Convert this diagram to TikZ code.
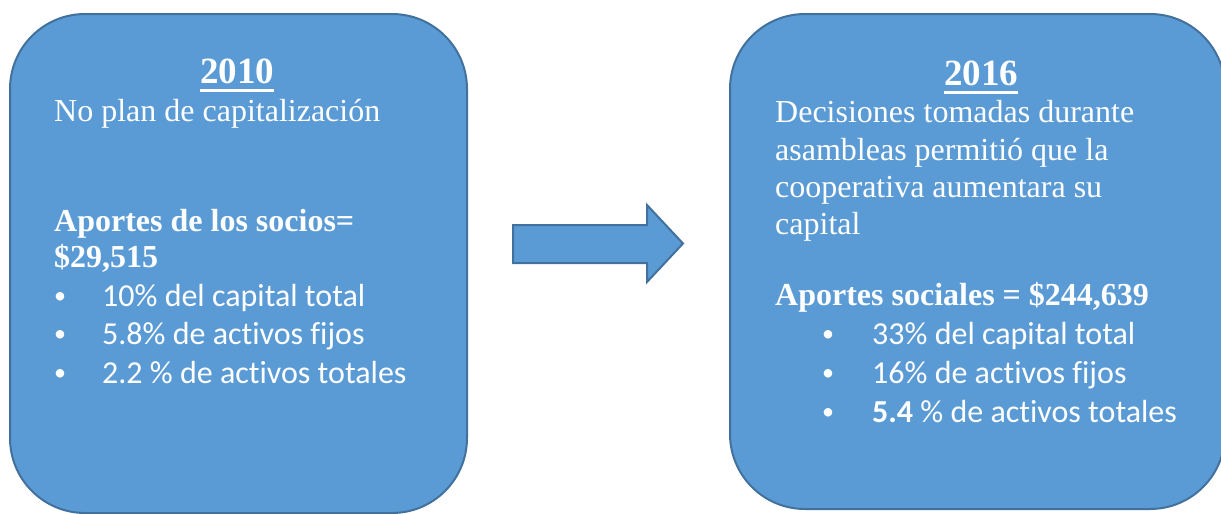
\documentclass[tikz,border=0pt]{standalone}
\usepackage{fontspec}
\setmainfont{Liberation Serif}
\newfontfamily\bodysans[RawFeature={-liga;-clig;-dlig;-calt}]{Carlito}
\begin{document}
\begin{tikzpicture}[x=1pt,y=-1pt,
  panel/.style={draw=panelline, fill=panelfill, line width=2pt, rounded corners=75pt,
    inner sep=0pt},
  yeartitle/.style={text=white, inner sep=0pt, anchor=base,
    font=\fontsize{37}{42}\selectfont\bfseries},
  serifline/.style={text=white, inner sep=0pt, anchor=base west,
    font=\fontsize{32}{37}\selectfont},
  boldline/.style={serifline, font=\fontsize{32}{37}\selectfont\bfseries},
  bulletmark/.style={text=white, inner sep=0pt, anchor=base,
    font=\bodysans\fontsize{24}{28}\selectfont},
  bullettext/.style={text=white, inner sep=0pt, anchor=base west,
    font=\bodysans\fontsize{32}{37}\selectfont},
  titlerule/.style={white, line width=3pt}
]
\definecolor{panelfill}{HTML}{5B9BD5}
\definecolor{panelline}{HTML}{41719C}
\useasboundingbox (0,0) rectangle (1221,514);

% the two year panels
\node[panel, minimum width=457pt, minimum height=499pt] (box10) at (238.5,263.5) {};
\node[panel, minimum width=495pt, minimum height=495pt] (box16) at (977.5,261.5) {};

% block arrow between the panels
\draw[draw=panelline, fill=panelfill, line width=2pt, line join=miter]
  (513,225) -- (647,225) -- (647,205) -- (683,243.5) -- (647,282)
  -- (647,263) -- (513,263) -- cycle;

% 2010 panel
\node[yeartitle] (y10) at (237,83) {2010};
\draw[titlerule] ([yshift=-7pt]y10.base west) -- ([yshift=-7pt]y10.base east);
\node[serifline] (l10a) at (54,121) {No plan de capitalización};
\node[boldline] (l10b) at (54,231) {Aportes de los socios=};
\node[boldline] (l10c) at (54,267) {\$29,515};
\node[bulletmark] (b10a) at (60,303) {•};
\node[bullettext] (t10a) at (102,306) {10\% del capital total};
\node[bulletmark] (b10b) at (60,341) {•};
\node[bullettext] (t10b) at (102,344) {5.8\% de activos fijos};
\node[bulletmark] (b10c) at (60,380) {•};
\node[bullettext] (t10c) at (102,383) {2.2 \% de activos totales};

% 2016 panel
\node[yeartitle] (y16) at (981,85) {2016};
\draw[titlerule] ([yshift=-7pt]y16.base west) -- ([yshift=-7pt]y16.base east);
\node[serifline] (l16a) at (775,122) {Decisiones tomadas durante};
\node[serifline] (l16b) at (775,160) {asambleas permitió que la};
\node[serifline] (l16c) at (775,197) {cooperativa aumentara su};
\node[serifline] (l16d) at (775,234) {capital};
\node[boldline] (l16e) at (775,305) {Aportes sociales = \$244,639};
\node[bulletmark] (b16a) at (828,341) {•};
\node[bullettext] (t16a) at (872,344) {33\% del capital total};
\node[bulletmark] (b16b) at (828,380) {•};
\node[bullettext] (t16b) at (872,383) {16\% de activos fijos};
\node[bulletmark] (b16c) at (828,419) {•};
\node[bullettext] (t16c) at (872,422) {\textbf{5.4} \% de activos totales};
\end{tikzpicture}
\end{document}
